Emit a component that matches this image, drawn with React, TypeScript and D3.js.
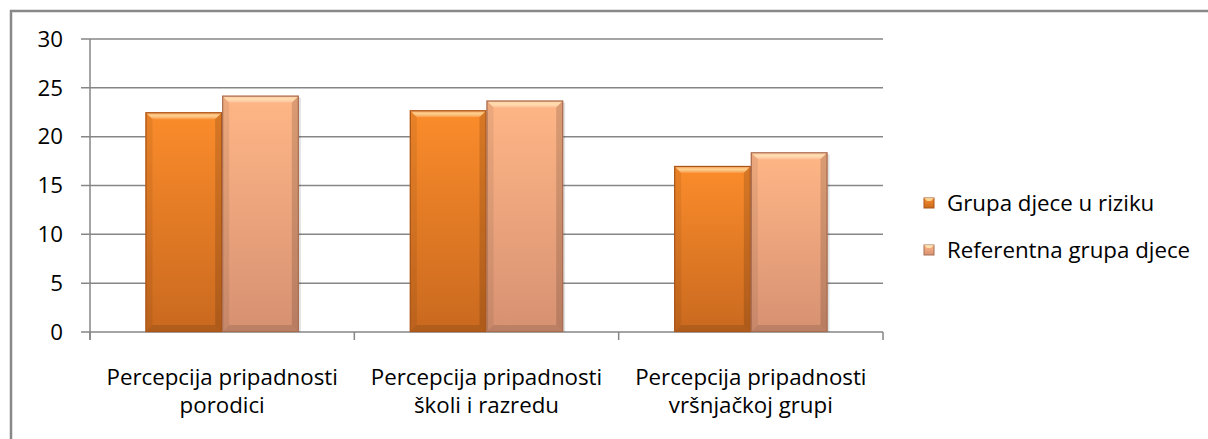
import React from 'react';
import * as d3 from 'd3';

const categories = [
    ['Percepcija pripadnosti', 'porodici'],
    ['Percepcija pripadnosti', 'školi i razredu'],
    ['Percepcija pripadnosti', 'vršnjačkoj grupi']
];
const seriesNames = ['Grupa djece u riziku', 'Referentna grupa djece'];
const riskGroup = [22.5, 22.7, 17.0];
const referenceGroup = [24.2, 23.7, 18.4];
const yTicks = [0, 5, 10, 15, 20, 25, 30];

const W = 1208;
const H = 439;
const font = '"Open Sans", Lato, sans-serif';
const fs = 22.3;

// colors per series: [top, bottom, edge]
const palette = [
    {top: '#fb8c2b', bottom: '#c9691f', edge: '#a9551a'},
    {top: '#ffb686', bottom: '#d69172', edge: '#a86e52'}
];

export default function App()
{
    const margin = {top: 39, left: 90, right: 325, bottom: 107};
    const plotRight = W - margin.right;
    const plotBottom = H - margin.bottom;

    const x0 = d3.scaleBand<number>()
        .domain(d3.range(categories.length))
        .range([margin.left, plotRight])
        .paddingInner(0.42)
        .paddingOuter(0.21);

    const x1 = d3.scaleBand<number>()
        .domain([0, 1])
        .range([0, x0.bandwidth()]);

    const y = d3.scaleLinear()
        .domain([0, 30])
        .range([plotBottom, margin.top]);

    const step = (plotRight - margin.left) / categories.length;
    const values = [riskGroup, referenceGroup];

    const bars = values.flatMap((series, s) => series.map((v, i) =>
    {
        const bx = (x0(i) as number) + (x1(s) as number);
        const bw = x1.bandwidth();
        const by = y(v);
        const bh = plotBottom - by;
        const b = 7;
        return (
            <g key={s + '-' + i}>
                <rect x={bx + 2} y={by + 2} width={bw} height={bh - 2} fill="#000" opacity={0.12}/>
                <rect x={bx} y={by} width={bw} height={bh} fill={`url(#grad${s})`}/>
                <polygon points={`${bx},${by} ${bx + bw},${by} ${bx + bw - b},${by + b} ${bx + b},${by + b}`}
                         fill="url(#bevelTop)"/>
                <polygon points={`${bx},${by + bh} ${bx + bw},${by + bh} ${bx + bw - b},${by + bh - b} ${bx + b},${by + bh - b}`}
                         fill="#000" opacity={0.12}/>
                <polygon points={`${bx},${by} ${bx + b},${by + b} ${bx + b},${by + bh - b} ${bx},${by + bh}`}
                         fill="#000" opacity={0.07}/>
                <polygon points={`${bx + bw},${by} ${bx + bw - b},${by + b} ${bx + bw - b},${by + bh - b} ${bx + bw},${by + bh}`}
                         fill="#000" opacity={0.14}/>
                <rect x={bx + 0.5} y={by + 0.5} width={bw - 1} height={bh - 1} fill="none"
                      stroke={palette[s].edge} strokeWidth={1.2}/>
            </g>
        );
    }));

    return (
        <svg width={W} height={H} style={{position: 'absolute', left: 0, top: 0}}>
            <defs>
                {palette.map((p, s) => (
                    <linearGradient key={s} id={`grad${s}`} x1="0" y1="0" x2="0" y2="1">
                        <stop offset="0" stopColor={p.top}/>
                        <stop offset="1" stopColor={p.bottom}/>
                    </linearGradient>
                ))}
                <linearGradient id="bevelTop" x1="0" y1="0" x2="0" y2="1">
                    <stop offset="0" stopColor="#fff" stopOpacity={0.15}/>
                    <stop offset="0.5" stopColor="#fff5c0" stopOpacity={0.65}/>
                    <stop offset="1" stopColor="#fff" stopOpacity={0.1}/>
                </linearGradient>
            </defs>
            <rect x={0} y={0} width={W} height={H} fill="#fff"/>
            <rect x={11} y={11} width={W + 10} height={H + 10} fill="none" stroke="#888" strokeWidth={2.5}/>

            {yTicks.map(t => (
                <g key={t}>
                    <line x1={margin.left - 9} x2={plotRight} y1={y(t)} y2={y(t)} stroke="#868686" strokeWidth={1.5}/>
                    <text x={63} y={y(t)} dy="0.35em" textAnchor="end" fontFamily={font} fontSize={fs} fill="#000">{t}</text>
                </g>
            ))}
            <line x1={margin.left} x2={margin.left} y1={margin.top} y2={plotBottom + 8} stroke="#868686" strokeWidth={1.5}/>
            {d3.range(categories.length + 1).map(i => (
                <line key={i} x1={margin.left + i * step} x2={margin.left + i * step}
                      y1={plotBottom} y2={plotBottom + 8} stroke="#868686" strokeWidth={1.5}/>
            ))}

            {bars}

            {categories.map((lines, i) => (
                <text key={i} x={(x0(i) as number) + x0.bandwidth() / 2} y={385}
                      textAnchor="middle" fontFamily={font} fontSize={fs} fill="#000">
                    {lines.map((l, k) => (
                        <tspan key={k} x={(x0(i) as number) + x0.bandwidth() / 2} dy={k === 0 ? 0 : 28}>{l}</tspan>
                    ))}
                </text>
            ))}

            {seriesNames.map((name, s) => (
                <g key={name} transform={`translate(924, ${198 + s * 47})`}>
                    <rect width={10} height={10} fill={`url(#grad${s})`} stroke={palette[s].edge} strokeWidth={1}/>
                    <polygon points="0,0 10,0 7,3 3,3" fill="#fff5c0" opacity={0.7}/>
                    <text x={23} y={5} dy="0.35em" fontFamily={font} fontSize={fs} fill="#000">{name}</text>
                </g>
            ))}
        </svg>
    );
}
